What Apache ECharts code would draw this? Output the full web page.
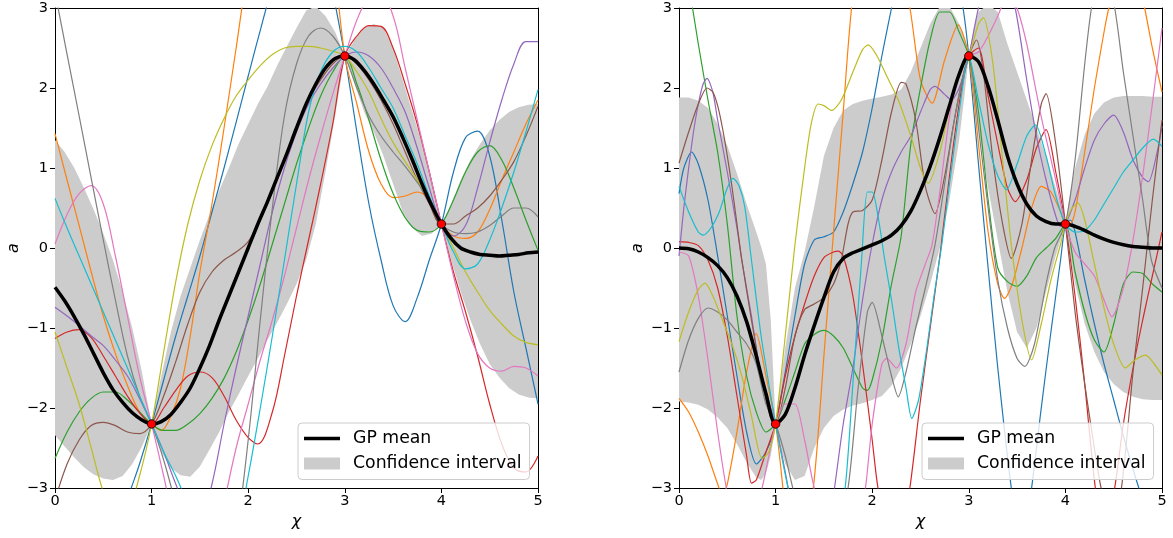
<!DOCTYPE html>
<html>
<head>
<meta charset="utf-8">
<script src="https://cdn.jsdelivr.net/npm/echarts@6/dist/echarts.min.js"></script>
<style>
  html, body { margin: 0; padding: 0; background: #fff; }
  #chart { width: 1173px; height: 538px; }
</style>
</head>
<body>
<div id="chart"></div>
<script>
var xTicks = [0, 1, 2, 3, 4, 5];
var yTicks = [-3, -2, -1, 0, 1, 2, 3];

var obsX = [1, 3, 4];
var obsY = [-2.2, 2.4, 0.3];

var xGrid = [0,0.1,0.2,0.3,0.4,0.5,0.6,0.7,0.8,0.9,1,1.1,1.2,1.3,1.4,1.5,1.6,1.7,1.8,1.9,2,2.1,2.2,2.3,2.4,2.5,2.6,2.7,2.8,2.9,3,3.1,3.2,3.3,3.4,3.5,3.6,3.7,3.8,3.9,4,4.1,4.2,4.3,4.4,4.5,4.6,4.7,4.8,4.9,5];

var leftMean = [-0.49,-0.66,-0.86,-1.08,-1.32,-1.56,-1.77,-1.93,-2.06,-2.15,-2.2,-2.17,-2.08,-1.93,-1.75,-1.5,-1.22,-0.9,-0.6,-0.3,0,0.3,0.58,0.88,1.18,1.5,1.8,2.05,2.25,2.37,2.4,2.35,2.22,2.05,1.85,1.64,1.38,1.1,0.8,0.53,0.3,0.12,0,-0.05,-0.08,-0.09,-0.1,-0.09,-0.08,-0.06,-0.05];
var leftLower = [-2.34,-2.48,-2.62,-2.74,-2.83,-2.88,-2.9,-2.85,-2.7,-2.48,-2.2,-2.55,-2.75,-2.84,-2.86,-2.73,-2.52,-2.3,-2.05,-1.83,-1.6,-1.38,-1.15,-0.93,-0.7,-0.45,-0.15,0.3,0.95,1.65,2.4,2.05,1.7,1.45,1.15,0.8,0.45,0.25,0.15,0.18,0.3,-0.15,-0.55,-0.9,-1.2,-1.45,-1.62,-1.75,-1.83,-1.87,-1.88];
var leftUpper = [1.35,1.2,1,0.75,0.48,0.18,-0.15,-0.55,-1,-1.55,-2.2,-1.6,-1.05,-0.6,-0.25,0.1,0.42,0.72,1,1.3,1.55,1.8,2.02,2.28,2.52,2.75,2.97,3.02,2.9,2.7,2.4,2.6,2.75,2.8,2.75,2.5,2.1,1.7,1.3,0.85,0.3,0.55,0.85,1.1,1.3,1.47,1.6,1.7,1.76,1.79,1.8];

var rightMean = [0,-0.01,-0.05,-0.12,-0.22,-0.37,-0.6,-0.92,-1.35,-1.82,-2.2,-2.08,-1.75,-1.34,-0.97,-0.62,-0.3,-0.13,-0.06,-0.01,0.04,0.09,0.16,0.28,0.46,0.72,1.02,1.38,1.78,2.17,2.4,2.33,2.02,1.6,1.15,0.8,0.55,0.4,0.33,0.3,0.3,0.27,0.22,0.16,0.11,0.07,0.04,0.02,0.01,0,0];
var rightBandX = [0,0.1,0.2,0.3,0.4,0.5,0.6,0.7,0.8,0.85,0.9,0.95,1,1.05,1.1,1.2,1.3,1.4,1.5,1.6,1.7,1.8,1.9,2,2.1,2.2,2.3,2.4,2.5,2.6,2.7,2.8,2.9,2.95,3,3.05,3.1,3.2,3.3,3.4,3.5,3.6,3.7,3.8,3.9,3.95,4,4.05,4.1,4.2,4.3,4.4,4.5,4.6,4.7,4.8,4.9,5];
var rightLower = [-1.92,-1.93,-1.96,-2.02,-2.12,-2.25,-2.45,-2.68,-2.87,-2.9,-2.82,-2.6,-2.2,-2.5,-2.7,-2.9,-2.85,-2.5,-2.25,-2.1,-2.02,-1.97,-1.94,-1.9,-1.85,-1.72,-1.5,-1.2,-0.85,-0.45,0,0.6,1.35,1.85,2.4,1.9,1.5,0.75,0.1,-0.55,-1.05,-1.25,-1,-0.55,-0.1,0.1,0.3,-0.1,-0.45,-0.95,-1.3,-1.55,-1.7,-1.8,-1.86,-1.89,-1.9,-1.9];
var rightUpper = [1.88,1.88,1.84,1.75,1.55,1.28,0.93,0.55,0.2,0.02,-0.2,-0.9,-2.2,-1.7,-1.25,-0.5,-0.05,0.52,1.15,1.5,1.72,1.8,1.84,1.87,1.89,1.92,1.98,2.2,2.5,2.8,3.02,3.02,2.8,2.65,2.4,2.75,2.95,3.05,2.95,2.55,2.2,1.85,1.5,1.15,0.75,0.55,0.3,0.7,1,1.42,1.68,1.82,1.88,1.9,1.9,1.9,1.89,1.89];

var leftBlue = [[0,-7.5],[0.25,-5.8],[0.5,-4.3],[0.75,-3.15],[0.875,-2.7],[1,-2.2],[1.125,-1.65],[1.25,-1.1],[1.375,-0.6],[1.5,-0.1],[1.625,0.45],[1.75,1],[1.875,1.57],[2,2.15],[2.125,2.72],[2.25,3.25],[2.5,4],[2.75,3.9],[2.875,3.2],[3,2.4],[3.125,1.45],[3.25,0.55],[3.375,-0.15],[3.5,-0.72],[3.625,-0.92],[3.75,-0.62],[3.875,-0.15],[4,0.3],[4.125,0.95],[4.25,1.38],[4.375,1.46],[4.5,1.15],[4.625,0.35],[4.75,-0.55],[4.875,-1.25],[5,-1.95]];
var leftOrange = [[0,1.43],[0.125,0.85],[0.25,0.28],[0.375,-0.3],[0.5,-0.85],[0.625,-1.32],[0.75,-1.72],[0.875,-2.05],[1,-2.2],[1.1,-2.28],[1.2,-2.1],[1.3,-1.75],[1.4,-1.1],[1.5,-0.3],[1.625,0.55],[1.75,1.5],[1.875,2.5],[2,3.5],[2.25,5],[2.5,5.8],[2.75,5],[2.875,3.8],[3,2.4],[3.125,1.8],[3.25,1.2],[3.375,0.8],[3.5,0.63],[3.625,0.65],[3.75,0.7],[3.875,0.6],[4,0.3],[4.125,0.15],[4.25,0.12],[4.375,0.2],[4.5,0.48],[4.625,0.85],[4.75,1.2],[4.875,1.55],[5,1.85]];
var leftGreen = [[0,-2.63],[0.125,-2.3],[0.25,-2.05],[0.375,-1.88],[0.5,-1.8],[0.625,-1.8],[0.75,-1.9],[0.875,-2.05],[1,-2.2],[1.125,-2.28],[1.25,-2.28],[1.375,-2.2],[1.5,-2.07],[1.625,-1.88],[1.75,-1.63],[1.875,-1.3],[2,-0.9],[2.125,-0.45],[2.25,0.05],[2.375,0.55],[2.5,1.05],[2.625,1.5],[2.75,1.9],[2.875,2.2],[3,2.4],[3.125,2.05],[3.25,1.6],[3.375,1.1],[3.5,0.68],[3.625,0.38],[3.75,0.22],[3.875,0.2],[4,0.3],[4.125,0.6],[4.25,0.95],[4.375,1.2],[4.5,1.28],[4.625,1.1],[4.75,0.75],[4.875,0.35],[5,-0.03]];
var leftRed = [[0,-1.13],[0.125,-1.05],[0.25,-1.02],[0.375,-1.12],[0.5,-1.35],[0.625,-1.6],[0.75,-1.85],[0.875,-2.06],[1,-2.2],[1.125,-2],[1.25,-1.78],[1.375,-1.6],[1.5,-1.55],[1.625,-1.62],[1.75,-1.85],[1.875,-2.15],[2,-2.37],[2.1,-2.45],[2.25,-2.05],[2.375,-1.35],[2.5,-0.6],[2.625,0.1],[2.75,0.8],[2.875,1.55],[3,2.4],[3.125,2.65],[3.25,2.78],[3.375,2.77],[3.5,2.5],[3.625,2.05],[3.75,1.55],[3.875,0.95],[4,0.3],[4.125,-0.3],[4.25,-0.8],[4.375,-1.35],[4.5,-1.95],[4.625,-2.45],[4.75,-2.75],[4.875,-2.8],[5,-2.6]];
var leftPurple = [[0,-0.74],[0.125,-0.85],[0.25,-0.97],[0.375,-1.1],[0.5,-1.22],[0.625,-1.4],[0.75,-1.6],[0.875,-1.88],[1,-2.2],[1.125,-2.55],[1.25,-2.95],[1.375,-3.3],[1.5,-3.45],[1.625,-2.95],[1.75,-2.2],[1.875,-1.5],[2,-0.85],[2.125,-0.2],[2.25,0.45],[2.375,1],[2.5,1.45],[2.625,1.8],[2.75,2.05],[2.875,2.25],[3,2.4],[3.125,2.45],[3.25,2.4],[3.375,2.25],[3.5,2],[3.625,1.7],[3.75,1.25],[3.875,0.75],[4,0.3],[4.125,0.15],[4.25,0.28],[4.375,0.75],[4.5,1.32],[4.625,1.85],[4.75,2.3],[4.875,2.58],[5,2.58]];
var leftBrown = [[0,-3.15],[0.125,-2.7],[0.25,-2.4],[0.375,-2.22],[0.5,-2.18],[0.625,-2.22],[0.75,-2.3],[0.875,-2.32],[1,-2.2],[1.125,-1.85],[1.25,-1.42],[1.375,-0.95],[1.5,-0.55],[1.625,-0.3],[1.75,-0.15],[1.875,-0.05],[2,0.08],[2.125,0.35],[2.25,0.7],[2.375,1.1],[2.5,1.5],[2.625,1.85],[2.75,2.1],[2.875,2.3],[3,2.4],[3.125,2.3],[3.25,2.1],[3.375,1.85],[3.5,1.55],[3.625,1.2],[3.75,0.85],[3.875,0.55],[4,0.3],[4.125,0.3],[4.25,0.4],[4.375,0.5],[4.5,0.65],[4.625,0.85],[4.75,1.08],[4.875,1.4],[5,1.77]];
var leftPink = [[0,0.05],[0.125,0.42],[0.25,0.68],[0.375,0.78],[0.5,0.55],[0.625,-0.1],[0.75,-0.85],[0.875,-1.6],[1,-2.2],[1.125,-2.85],[1.25,-3.5],[1.5,-4.3],[1.625,-4],[1.75,-3.2],[1.875,-2.5],[2,-1.95],[2.125,-1.4],[2.25,-0.9],[2.375,-0.35],[2.5,0.25],[2.625,0.85],[2.75,1.4],[2.875,1.92],[3,2.4],[3.125,2.85],[3.25,3.15],[3.35,3.22],[3.5,2.9],[3.625,2.25],[3.75,1.6],[3.875,0.95],[4,0.3],[4.125,-0.35],[4.25,-0.92],[4.375,-1.32],[4.5,-1.5],[4.625,-1.54],[4.75,-1.48],[4.875,-1.5],[5,-1.6]];
var leftGray = [[0,3.2],[0.125,2.42],[0.25,1.65],[0.375,0.87],[0.5,0.1],[0.625,-0.65],[0.75,-1.35],[0.875,-1.85],[1,-2.2],[1.125,-2.65],[1.25,-3.2],[1.5,-4.3],[1.75,-4.3],[1.875,-3.6],[2,-2.4],[2.125,-0.9],[2.25,0.5],[2.375,1.65],[2.5,2.3],[2.625,2.65],[2.75,2.75],[2.875,2.65],[3,2.4],[3.125,2],[3.25,1.65],[3.375,1.4],[3.5,1.2],[3.625,1.02],[3.75,0.82],[3.875,0.6],[4,0.3],[4.125,0.2],[4.25,0.18],[4.375,0.2],[4.5,0.28],[4.625,0.4],[4.75,0.5],[4.875,0.5],[5,0.39]];
var leftOlive = [[0,-1.05],[0.125,-1.5],[0.25,-1.95],[0.375,-2.5],[0.5,-3.05],[0.625,-3.4],[0.75,-3.3],[0.875,-2.85],[1,-2.2],[1.125,-1.3],[1.25,-0.42],[1.375,0.3],[1.5,0.85],[1.625,1.28],[1.75,1.62],[1.875,1.9],[2,2.1],[2.125,2.28],[2.25,2.42],[2.375,2.5],[2.5,2.52],[2.625,2.52],[2.75,2.5],[2.875,2.46],[3,2.4],[3.125,2.2],[3.25,1.95],[3.375,1.62],[3.5,1.32],[3.625,1.08],[3.75,0.85],[3.875,0.6],[4,0.3],[4.125,0],[4.25,-0.3],[4.375,-0.55],[4.5,-0.78],[4.625,-0.95],[4.75,-1.1],[4.875,-1.18],[5,-1.21]];
var leftCyan = [[0,0.62],[0.125,0.25],[0.25,-0.1],[0.375,-0.45],[0.5,-0.8],[0.625,-1.15],[0.75,-1.5],[0.875,-1.85],[1,-2.2],[1.125,-2.55],[1.25,-2.85],[1.375,-3.2],[1.5,-3.55],[1.75,-3.9],[1.875,-3.6],[2,-2.85],[2.125,-2],[2.25,-1.1],[2.375,-0.15],[2.5,0.8],[2.625,1.7],[2.75,2.2],[2.875,2.45],[3,2.52],[3.125,2.45],[3.25,2.25],[3.375,2],[3.5,1.75],[3.625,1.4],[3.75,1.05],[3.875,0.65],[4,0.3],[4.125,-0.05],[4.25,-0.26],[4.375,-0.2],[4.5,0.1],[4.625,0.5],[4.75,0.95],[4.875,1.45],[5,1.98]];

var rightBlue = [[0,0.68],[0.05,1],[0.13,1.2],[0.2,1.05],[0.3,0.6],[0.4,-0.1],[0.5,-0.85],[0.6,-1.6],[0.7,-2.3],[0.8,-2.7],[0.9,-2.55],[1,-2.2],[1.1,-1.55],[1.2,-0.85],[1.3,-0.2],[1.4,0.1],[1.5,0.14],[1.6,0.2],[1.7,0.45],[1.8,0.8],[1.9,1.2],[2,1.75],[2.1,2.4],[2.2,3],[2.3,3.6],[2.5,4.2],[2.7,4.2],[2.85,3.5],[2.94,3],[3,2.4],[3.1,1.05],[3.2,-0.25],[3.3,-1.5],[3.44,-3],[3.55,-3.8],[3.65,-3],[3.75,-2],[3.85,-1.05],[3.95,-0.15],[4,0.3],[4.05,0.35],[4.1,0.2],[4.2,-0.4],[4.3,-0.95],[4.4,-1.45],[4.5,-1.9],[4.6,-2.35],[4.76,-3],[4.9,-3.5],[5,-3.7]];
var rightOrange = [[0,-1.88],[0.1,-2.05],[0.2,-2.3],[0.3,-2.6],[0.4,-2.95],[0.45,-3.1],[0.5,-2.95],[0.6,-2.3],[0.7,-1.55],[0.8,-1.07],[0.9,-1.6],[1,-2.2],[1.05,-2.7],[1.1,-3.2],[1.25,-3.8],[1.39,-3],[1.5,-1.35],[1.6,0.2],[1.7,1.7],[1.8,3.15],[2,4.5],[2.2,4],[2.39,3],[2.5,2.1],[2.62,1.81],[2.75,2.35],[2.89,2.79],[3,2.4],[3.1,1.3],[3.2,0.2],[3.3,-0.45],[3.37,-0.63],[3.45,-0.45],[3.55,0],[3.65,0.5],[3.75,0.77],[3.85,0.7],[3.95,0.45],[4,0.3],[4.05,0.3],[4.1,0.45],[4.2,1.2],[4.3,2],[4.4,2.7],[4.45,3],[4.6,3.6],[4.7,3.6],[4.82,3],[4.9,2.5],[5,1.95]];
var rightGreen = [[0,4],[0.1,3.3],[0.2,2.55],[0.3,1.85],[0.4,1.2],[0.5,0.3],[0.6,-0.85],[0.7,-1.6],[0.8,-2.05],[0.9,-2.3],[1,-2.2],[1.1,-1.9],[1.2,-1.55],[1.3,-1.2],[1.4,-1.08],[1.5,-1.03],[1.6,-1.1],[1.7,-1.25],[1.8,-1.5],[1.9,-1.75],[1.95,-1.78],[2,-1.65],[2.1,-1.15],[2.2,-0.45],[2.3,0.15],[2.4,1.3],[2.5,2],[2.6,2.6],[2.7,2.95],[2.8,2.95],[2.9,2.7],[3,2.4],[3.1,1.7],[3.2,0.6],[3.3,-0.25],[3.4,-0.42],[3.5,-0.48],[3.6,-0.35],[3.7,-0.12],[3.8,0],[3.9,0.12],[4,0.3],[4.1,-0.3],[4.2,-0.8],[4.3,-1.15],[4.4,-1.3],[4.5,-0.95],[4.6,-0.45],[4.7,-0.3],[4.8,-0.32],[4.9,-0.45],[5,-0.55]];
var rightRed = [[0,0.08],[0.1,0.07],[0.2,0.03],[0.3,-0.15],[0.4,-0.5],[0.5,-1.1],[0.6,-1.85],[0.7,-2.6],[0.75,-2.94],[0.8,-2.9],[0.9,-2.55],[1,-2.2],[1.1,-1.6],[1.2,-1.1],[1.3,-0.7],[1.4,-0.35],[1.5,-0.12],[1.6,-0.05],[1.65,-0.04],[1.7,-0.1],[1.8,-0.6],[1.9,-1.45],[2,-2.4],[2.06,-3],[2.2,-3.8],[2.3,-3.6],[2.39,-3],[2.5,-1.9],[2.6,-1],[2.7,-0.1],[2.8,0.9],[2.9,1.8],[3,2.4],[3.1,2.5],[3.2,1.9],[3.3,1.3],[3.4,0.75],[3.48,0.58],[3.6,0.85],[3.7,1.25],[3.8,1.48],[3.9,0.95],[4,0.3],[4.1,-0.6],[4.2,-1.7],[4.31,-3],[4.4,-3.6],[4.51,-3],[4.6,-2.2],[4.7,-1.5],[4.8,-0.9],[4.9,-0.35],[5,0.2]];
var rightPurple = [[0,-0.1],[0.05,0.5],[0.1,1],[0.15,1.45],[0.2,1.8],[0.25,2.05],[0.29,2.12],[0.35,1.95],[0.4,1.6],[0.5,0.95],[0.6,0.25],[0.65,-0.15],[0.75,-0.85],[0.85,-1.6],[0.95,-2],[1,-2.2],[1.1,-2.8],[1.2,-3.4],[1.4,-3.9],[1.55,-3.5],[1.61,-3],[1.7,-2.2],[1.8,-1.5],[1.9,-0.65],[2,0.05],[2.1,0.6],[2.2,0.95],[2.3,1.2],[2.4,1.4],[2.5,1.7],[2.6,1.98],[2.65,2.02],[2.75,1.92],[2.82,1.85],[2.9,2],[3,2.4],[3.1,3],[3.2,3.4],[3.35,3.5],[3.48,3],[3.6,2.1],[3.7,1.4],[3.8,0.85],[3.9,0.4],[3.95,0.27],[4,0.3],[4.1,0.6],[4.2,1],[4.3,1.35],[4.4,1.55],[4.5,1.66],[4.6,1.45],[4.7,1.1],[4.8,0.88],[4.86,0.83],[4.95,1.2],[5,1.52]];
var rightBrown = [[0,1.06],[0.1,1.45],[0.2,1.8],[0.29,2],[0.35,1.95],[0.4,1.78],[0.45,1.5],[0.5,1.15],[0.55,0.75],[0.6,0.3],[0.65,-0.15],[0.75,-0.9],[0.85,-1.6],[0.9,-1.9],[0.95,-2.12],[1,-2.2],[1.1,-1.75],[1.2,-1.1],[1.3,-0.77],[1.4,-0.7],[1.5,-0.62],[1.6,-0.45],[1.68,-0.15],[1.75,0.3],[1.8,0.45],[1.9,0.47],[2,0.6],[2.1,1.1],[2.2,1.7],[2.3,2.07],[2.35,2.05],[2.45,1.6],[2.55,0.77],[2.65,0.43],[2.75,0.9],[2.85,1.6],[2.95,2.2],[3,2.4],[3.08,2.6],[3.15,2.2],[3.25,1.1],[3.35,0.3],[3.44,-0.13],[3.55,0.3],[3.65,1.1],[3.75,1.8],[3.8,1.93],[3.9,1.3],[4,0.3],[4.1,-0.8],[4.2,-1.7],[4.3,-2.5],[4.37,-3],[4.48,-3.4],[4.58,-3],[4.7,-1.55],[4.8,-0.5],[4.9,0.6],[5,1.6]];
var rightPink = [[0,-0.05],[0.1,-0.1],[0.2,-0.6],[0.3,-1.4],[0.4,-2.3],[0.49,-3],[0.6,-3.6],[0.75,-3.5],[0.86,-3],[0.93,-2.6],[1,-2.2],[1.1,-1.95],[1.2,-1.95],[1.3,-2.4],[1.4,-3],[1.6,-3.8],[1.85,-3.5],[1.93,-3],[2,-2.2],[2.1,-1.45],[2.15,-1.38],[2.25,-1.5],[2.35,-1.2],[2.45,-0.55],[2.55,-0.2],[2.62,0.04],[2.7,0.7],[2.8,1.64],[2.9,2.2],[3,2.4],[3.1,2.45],[3.2,2.65],[3.3,2.9],[3.42,3.2],[3.5,3],[3.6,2.55],[3.75,1.64],[3.9,0.85],[4,0.3],[4.1,-0.05],[4.2,-0.2],[4.3,-0.35],[4.4,-0.65],[4.48,-0.86],[4.6,-0.5],[4.7,0.1],[4.8,0.9],[4.9,1.8],[5,2.75]];
var rightGray = [[0,-1.55],[0.1,-1.15],[0.2,-0.88],[0.3,-0.75],[0.4,-0.8],[0.5,-0.9],[0.6,-1.05],[0.7,-1.2],[0.8,-1.45],[0.9,-1.95],[1,-2.2],[1.1,-2.6],[1.2,-3.1],[1.4,-3.8],[1.6,-3.8],[1.75,-3],[1.85,-1.8],[1.95,-0.8],[2,-0.68],[2.1,-1.1],[2.2,-1.6],[2.27,-1.86],[2.35,-1.55],[2.45,-1],[2.55,-0.5],[2.65,0.04],[2.75,0.8],[2.85,1.6],[2.95,2.2],[3,2.4],[3.1,1.5],[3.2,0.5],[3.3,-0.4],[3.4,-1],[3.5,-1.38],[3.58,-1.48],[3.68,-1.2],[3.8,-0.45],[3.89,0],[4,0.3],[4.1,1.1],[4.2,2.3],[4.27,3],[4.38,3.6],[4.51,3],[4.6,2.2],[4.7,1.4],[4.8,0.6],[4.89,-0.15],[5,-0.5]];
var rightOlive = [[0,-1.17],[0.1,-0.8],[0.2,-0.52],[0.27,-0.44],[0.35,-0.6],[0.45,-0.9],[0.55,-1.21],[0.65,-1.6],[0.75,-2.1],[0.86,-2.63],[0.93,-2.55],[1,-2.2],[1.1,-1.1],[1.2,0.04],[1.3,1],[1.37,1.56],[1.44,1.8],[1.5,1.78],[1.58,1.72],[1.68,1.85],[1.8,2.2],[1.9,2.48],[1.96,2.54],[2.05,2.4],[2.15,2.15],[2.27,1.85],[2.4,1.4],[2.5,1],[2.58,0.81],[2.7,1.2],[2.8,1.75],[2.9,2.2],[3,2.4],[3.1,2.8],[3.15,2.88],[3.25,2.3],[3.35,1.1],[3.44,0.04],[3.55,-0.9],[3.65,-1.4],[3.75,-0.95],[3.85,-0.4],[3.95,0.05],[4,0.3],[4.07,0.5],[4.13,0.56],[4.2,0.35],[4.3,-0.2],[4.4,-0.75],[4.5,-1.2],[4.62,-1.5],[4.72,-1.4],[4.83,-1.34],[4.92,-1.45],[5,-1.59]];
var rightCyan = [[0,0.77],[0.1,0.45],[0.2,0.2],[0.25,0.16],[0.33,0.25],[0.41,0.43],[0.5,0.75],[0.56,0.87],[0.62,0.78],[0.68,0.52],[0.75,-0.15],[0.85,-1.1],[0.93,-1.7],[1,-2.2],[1.07,-2.65],[1.13,-3],[1.3,-3.8],[1.6,-3.8],[1.72,-3],[1.8,-1.7],[1.89,-0.15],[1.95,0.7],[2,0.7],[2.06,0.4],[2.13,-0.15],[2.2,-0.65],[2.27,-1.21],[2.35,-1.75],[2.41,-2.13],[2.48,-1.9],[2.56,-1.3],[2.64,-0.6],[2.72,0.04],[2.8,0.8],[2.9,1.7],[3,2.4],[3.1,1.85],[3.2,1.3],[3.3,0.9],[3.39,0.73],[3.5,1.05],[3.6,1.4],[3.69,1.54],[3.8,1.15],[3.9,0.65],[4,0.3],[4.1,0.2],[4.2,0.22],[4.3,0.35],[4.4,0.55],[4.5,0.75],[4.6,0.95],[4.7,1.1],[4.8,1.25],[4.91,1.36],[5,1.27]];

var tab10 = ['#1f77b4', '#ff7f0e', '#2ca02c', '#d62728', '#9467bd', '#8c564b', '#e377c2', '#7f7f7f', '#bcbd22', '#17becf'];
var leftSamples = [leftBlue, leftOrange, leftGreen, leftRed, leftPurple, leftBrown, leftPink, leftGray, leftOlive, leftCyan];
var rightSamples = [rightBlue, rightOrange, rightGreen, rightRed, rightPurple, rightBrown, rightPink, rightGray, rightOlive, rightCyan];

var font = 'DejaVu Sans';
var myChart = echarts.init(document.getElementById('chart'));

function pairs(xs, ys) {
  var out = [];
  for (var i = 0; i < xs.length; i++) out.push([xs[i], ys[i]]);
  return out;
}

function bandSeries(xs, lo, hi, gi) {
  return {
    type: 'custom',
    name: 'Confidence interval',
    xAxisIndex: gi * 2,
    yAxisIndex: gi * 2,
    data: [[xs[0], lo[0]]],
    clip: true,
    silent: true,
    z: 1,
    itemStyle: { color: '#cccccc' },
    renderItem: function (params, api) {
      var pts = [];
      for (var i = 0; i < xs.length; i++) pts.push(api.coord([xs[i], hi[i]]));
      for (var j = xs.length - 1; j >= 0; j--) pts.push(api.coord([xs[j], lo[j]]));
      return { type: 'polygon', shape: { points: pts }, style: { fill: '#cccccc' } };
    }
  };
}

function lineSeries(data, color, gi, width, smooth, name, z) {
  return {
    type: 'line',
    name: name,
    xAxisIndex: gi * 2,
    yAxisIndex: gi * 2,
    data: data,
    smooth: smooth,
    showSymbol: false,
    clip: true,
    silent: true,
    z: z,
    lineStyle: { color: color, width: width },
    itemStyle: { color: color }
  };
}

function obsSeries(gi) {
  return {
    type: 'scatter',
    xAxisIndex: gi * 2,
    yAxisIndex: gi * 2,
    data: pairs(obsX, obsY),
    symbolSize: 8.5,
    silent: true,
    z: 6,
    itemStyle: { color: '#ff0000', borderColor: '#000', borderWidth: 0.8, opacity: 1 }
  };
}

function xAxisPair(gi) {
  return [{
    gridIndex: gi, type: 'value', min: 0, max: 5, interval: 1, position: 'bottom',
    name: 'χ', nameLocation: 'middle', nameGap: 25,
    nameTextStyle: { fontFamily: font, fontStyle: 'italic', fontSize: 16, color: '#000' },
    axisLine: { show: true, onZero: false, lineStyle: { color: '#000', width: 1 } },
    axisTick: { show: true, inside: false, length: 5, lineStyle: { color: '#000', width: 1 } },
    axisLabel: { fontFamily: font, fontSize: 14.5, color: '#000', margin: 6 },
    splitLine: { show: false }
  }, {
    gridIndex: gi, type: 'value', min: 0, max: 5, position: 'top',
    axisLine: { show: true, onZero: false, lineStyle: { color: '#000', width: 1 } },
    axisTick: { show: false }, axisLabel: { show: false }, splitLine: { show: false }
  }];
}

function yAxisPair(gi) {
  return [{
    gridIndex: gi, type: 'value', min: -3, max: 3, interval: 1, position: 'left',
    name: 'a', nameLocation: 'middle', nameGap: 33, nameRotate: 90,
    nameTextStyle: { fontFamily: font, fontStyle: 'italic', fontSize: 16, color: '#000' },
    axisLine: { show: true, onZero: false, lineStyle: { color: '#000', width: 1 } },
    axisTick: { show: true, inside: false, length: 5, lineStyle: { color: '#000', width: 1 } },
    axisLabel: {
      fontFamily: font, fontSize: 14.5, color: '#000', margin: 7,
      formatter: function (v) { return v < 0 ? '\u2212' + Math.abs(v) : String(v); }
    },
    splitLine: { show: false }
  }, {
    gridIndex: gi, type: 'value', min: -3, max: 3, position: 'right',
    axisLine: { show: true, onZero: false, lineStyle: { color: '#000', width: 1 } },
    axisTick: { show: false }, axisLabel: { show: false }, splitLine: { show: false }
  }];
}

function legendFor(left) {
  return {
    left: left, top: 423, orient: 'vertical',
    itemWidth: 36, itemHeight: 12, itemGap: 8,
    padding: [7, 8, 7.5, 6],
    backgroundColor: 'rgba(255,255,255,0.8)',
    borderColor: '#cccccc', borderWidth: 1, borderRadius: 4,
    selectedMode: false,
    textStyle: { fontFamily: font, fontSize: 17.3, color: '#000', padding: [0, 0, 0, 8] },
    data: [
      { name: 'GP mean', icon: 'path://M0,0h36v3.5h-36z', itemStyle: { color: '#000', borderWidth: 0 } },
      { name: 'Confidence interval', icon: 'rect', itemStyle: { color: '#cccccc', borderWidth: 0 } }
    ]
  };
}

var series = [];
series.push(bandSeries(xGrid, leftLower, leftUpper, 0));
series.push(bandSeries(rightBandX, rightLower, rightUpper, 1));
for (var i = 0; i < 10; i++) {
  series.push(lineSeries(leftSamples[i], tab10[i], 0, 1.2, 0.35, 'ls' + i, 3));
  series.push(lineSeries(rightSamples[i], tab10[i], 1, 1.2, 0.25, 'rs' + i, 3));
}
series.push(lineSeries(pairs(xGrid, leftMean), '#000', 0, 3.5, 0.3, 'GP mean', 4));
series.push(lineSeries(pairs(xGrid, rightMean), '#000', 1, 3.5, 0.3, 'GP mean', 4));
series.push(obsSeries(0));
series.push(obsSeries(1));

var option = {
  animation: false,
  backgroundColor: '#fff',
  textStyle: { fontFamily: font },
  grid: [
    { left: 55, top: 8, width: 483, height: 480, containLabel: false },
    { left: 679, top: 8, width: 483, height: 480, containLabel: false }
  ],
  xAxis: xAxisPair(0).concat(xAxisPair(1)),
  yAxis: yAxisPair(0).concat(yAxisPair(1)),
  legend: [legendFor(298), legendFor(922)],
  series: series
};

myChart.setOption(option);
</script>
</body>
</html>
